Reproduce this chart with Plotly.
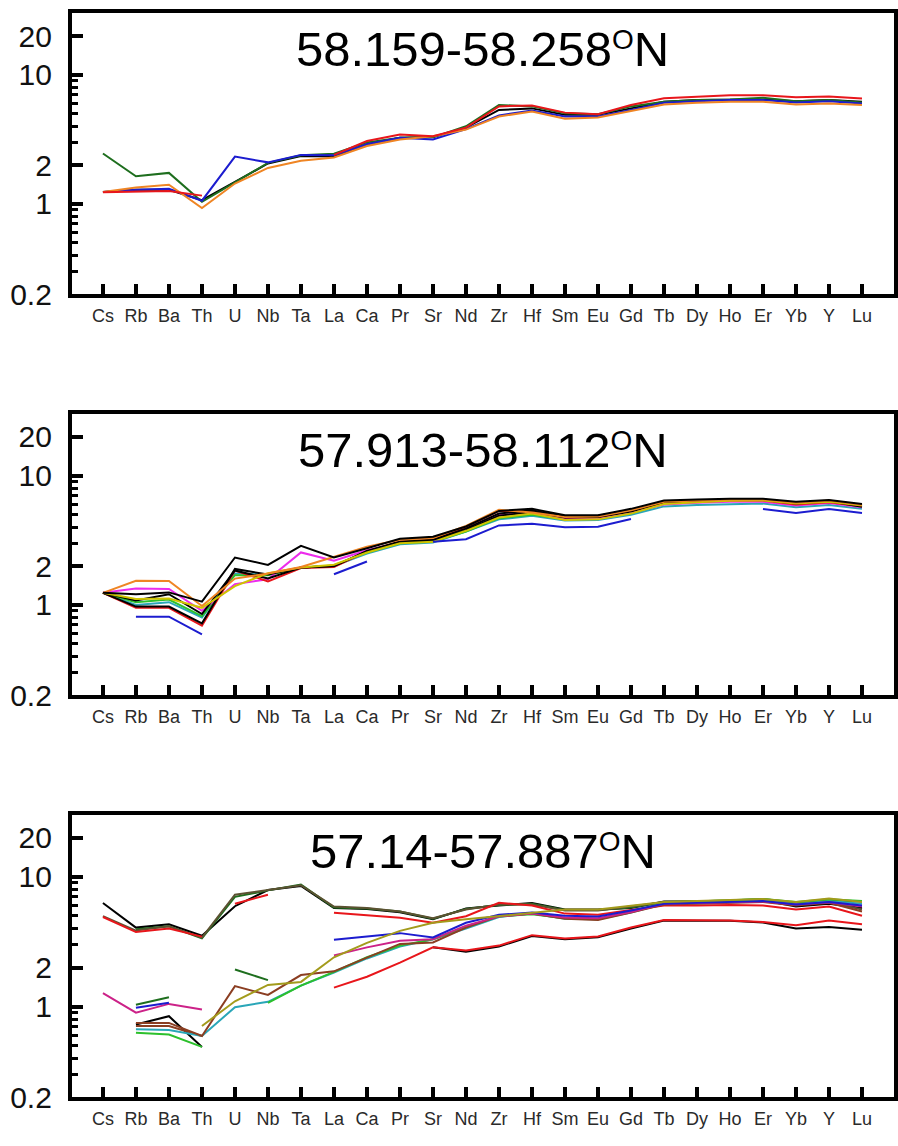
import plotly.graph_objects as go

elements = ["Cs", "Rb", "Ba", "Th", "U", "Nb", "Ta", "La", "Ca", "Pr", "Sr", "Nd",
            "Zr", "Hf", "Sm", "Eu", "Gd", "Tb", "Dy", "Ho", "Er", "Yb", "Y", "Lu"]
N = None

title_main = ["58.159-58.258", "57.913-58.112", "57.14-57.887"]

# ---- panel 1 (58.159-58.258 N)
p1_black = [1.24, 1.29, 1.29, 1.07, 1.48, 2.06, 2.35, 2.33, 2.90, 3.26, 3.30, 3.90, 5.35, 5.50, 4.90, 4.90, 5.50, 6.20, 6.40, 6.45, 6.45, 6.25, 6.40, 6.20]
p1_green = [2.46, 1.64, 1.74, 1.04, 1.47, 2.08, 2.38, 2.45, 3.00, 3.26, 3.28, 4.00, 5.85, 5.70, 5.05, 4.95, 5.70, 6.20, 6.40, 6.45, 6.65, 6.25, 6.40, 6.10]
p1_blue = [1.24, 1.29, 1.31, 1.06, 2.33, 2.10, 2.40, 2.38, 2.90, 3.26, 3.16, 3.80, 4.85, 5.30, 4.76, 4.76, 5.35, 6.07, 6.25, 6.40, 6.40, 6.10, 6.25, 6.00]
p1_orange = [1.24, 1.34, 1.41, 0.93, 1.44, 1.90, 2.16, 2.29, 2.81, 3.16, 3.35, 3.77, 4.76, 5.20, 4.57, 4.67, 5.25, 5.90, 6.07, 6.20, 6.20, 5.90, 6.00, 5.85]
p1_red = [1.23, 1.24, 1.26, 1.16, N, N, N, 2.40, 3.07, 3.45, 3.35, 3.90, 5.70, 5.80, 5.10, 4.95, 5.85, 6.60, 6.80, 6.95, 6.95, 6.70, 6.80, 6.55]

# ---- panel 2 (57.913-58.112 N)
p2_teal = [1.24, 1.00, 1.05, 0.80, 1.75, 1.72, 1.93, 2.00, 2.50, 2.95, 3.05, 3.70, 4.60, 4.90, 4.50, 4.55, 5.00, 5.80, 5.95, 6.05, 6.10, 5.70, 5.95, 5.55]
p2_green = [1.24, 1.05, 1.10, 0.82, 1.70, 1.70, 1.95, 2.02, 2.55, 3.00, 3.10, 3.70, 4.70, 5.00, 4.60, 4.65, 5.15, 6.05, 6.25, 6.40, 6.40, 6.00, 6.25, 5.85]
p2_magenta = [1.24, 1.34, 1.33, 0.90, 1.45, 1.58, 2.55, 2.20, 2.65, 3.05, 3.15, 3.80, 4.95, 5.20, 4.70, 4.70, 5.20, 6.00, 6.20, 6.30, 6.30, 5.90, 6.15, 5.70]
p2_red = [1.24, 0.95, 0.95, 0.69, 1.85, 1.52, 1.93, 1.97, 2.60, 3.10, 3.20, 4.00, 5.35, 5.30, 4.75, 4.80, 5.35, 6.15, 6.30, 6.45, 6.45, 6.00, 6.25, 5.80]
p2_black3 = [1.24, 1.08, 1.21, 0.85, 1.85, 1.60, 1.95, 2.00, 2.60, 3.05, 3.15, 3.80, 4.90, 5.25, 4.75, 4.80, 5.30, 6.25, 6.40, 6.50, 6.50, 6.10, 6.35, 5.75]
p2_black2 = [1.24, 0.97, 0.97, 0.72, 1.90, 1.72, 1.95, 2.00, 2.62, 3.10, 3.20, 3.90, 5.10, 5.40, 4.85, 4.90, 5.40, 6.30, 6.45, 6.55, 6.55, 6.15, 6.40, 5.90]
p2_yellow = [1.24, 1.11, 1.12, 0.95, 1.40, 1.76, 1.95, 2.05, 2.55, 3.00, 3.08, 3.75, 4.75, 5.10, 4.55, 4.60, 5.10, 6.05, 6.25, 6.40, 6.45, 6.10, 6.30, 5.90]
p2_orange = [1.24, 1.54, 1.53, 0.98, 1.60, 1.75, 1.97, 2.37, 2.82, 3.20, 3.30, 4.10, 5.45, 5.20, 4.80, 4.85, 5.40, 6.30, 6.40, 6.55, 6.55, 6.20, 6.45, 5.95]
p2_black1 = [1.24, 1.21, 1.25, 1.06, 2.33, 2.04, 2.87, 2.33, 2.75, 3.25, 3.37, 4.05, 5.35, 5.55, 4.95, 4.95, 5.55, 6.45, 6.55, 6.65, 6.65, 6.30, 6.50, 6.05]
p2_blue = [N, 0.81, 0.81, 0.59, N, N, N, 1.73, 2.17, N, 3.08, 3.23, 4.13, 4.25, 4.00, 4.03, 4.63, N, N, N, 5.53, 5.16, 5.53, 5.16]

# ---- panel 3 (57.14-57.887 N)
p3_black1 = [6.27, 4.06, 4.30, 3.51, 5.93, 7.90, 8.50, 5.75, 5.65, 5.33, 4.70, 5.69, 6.00, 6.27, 5.60, 5.60, 5.75, 6.45, 6.45, 6.55, 6.60, 5.90, 6.20, 5.75]
p3_brown1 = [4.97, 3.85, 4.15, 3.40, 7.27, 7.93, 8.60, 5.90, 5.75, 5.40, 4.80, 5.60, 6.10, 6.10, 5.50, 5.50, 5.90, 6.35, 6.40, 6.50, 6.55, 6.15, 6.40, 5.60]
p3_red1 = [4.90, 3.75, 4.00, 3.46, N, N, N, 5.27, 5.03, 4.83, 4.42, 4.97, 6.30, 6.00, 5.20, 5.10, 5.55, 6.00, 6.00, 6.05, 6.00, 5.60, 5.90, 5.00]
p3_redseg = [N, N, N, N, 6.20, 7.27, N, N, N, N, N, N, N, N, N, N, N, N, N, N, N, N, N, N]
p3_green1 = [N, 3.95, 4.15, 3.35, 7.00, 7.85, 8.70, 5.80, 5.70, 5.40, 4.75, 5.65, 6.05, 6.20, 5.55, 5.55, 5.80, 6.40, 6.45, 6.55, 6.75, 6.30, 6.60, 6.45]
p3_black2 = [N, N, N, N, N, N, N, N, N, N, 2.86, 2.65, 2.90, 3.50, 3.30, 3.42, 4.00, 4.60, 4.58, 4.58, 4.45, 4.00, 4.10, 3.90]
p3_red2 = [N, N, N, N, N, N, N, 1.40, 1.70, 2.18, 2.86, 2.70, 2.95, 3.55, 3.35, 3.47, 4.06, 4.64, 4.60, 4.60, 4.48, 4.23, 4.60, 4.30]
p3_magenta1 = [1.27, 0.90, 1.05, 0.95, N, N, N, N, N, N, N, N, N, N, N, N, N, N, N, N, N, N, N, N]
p3_blueseg = [N, 0.98, 1.07, N, N, N, N, N, N, N, N, N, N, N, N, N, N, N, N, N, N, N, N, N]
p3_dgreen1 = [N, 1.035, 1.18, N, N, N, N, N, N, N, N, N, N, N, N, N, N, N, N, N, N, N, N, N]
p3_dgreen2 = [N, N, N, N, 1.93, 1.60, N, N, N, N, N, N, N, N, N, N, N, N, N, N, N, N, N, N]
p3_black3 = [N, 0.73, 0.845, 0.49, N, N, N, N, N, N, N, N, N, N, N, N, N, N, N, N, N, N, N, N]
p3_red3 = [N, 0.71, 0.71, 0.595, N, N, N, N, N, N, N, N, N, N, N, N, N, N, N, N, N, N, N, N]
p3_teal = [N, 0.67, 0.66, 0.595, 0.99, 1.09, 1.45, 1.83, 2.35, 2.90, 3.30, 4.00, 4.90, 5.20, 4.75, 4.70, 5.30, 6.20, 6.35, 6.45, 6.55, 6.15, 6.50, 6.20]
p3_green2 = [N, 0.63, 0.61, 0.49, N, 1.07, 1.45, 1.85, 2.40, 2.95, 3.30, 4.10, 4.95, 5.15, 4.80, 4.70, 5.40, 6.30, 6.45, 6.55, 6.75, 6.40, 6.70, 6.50]
p3_brown2 = [N, 0.75, 0.75, 0.595, 1.44, 1.23, 1.75, 1.87, 2.40, 3.04, 3.12, 4.06, 4.98, 5.20, 4.75, 4.65, 5.30, 6.10, 6.20, 6.30, 6.40, 6.00, 6.30, 5.40]
p3_magenta2 = [N, N, N, N, N, N, N, 2.48, 2.86, 3.22, 3.30, 4.20, 4.95, 5.20, 4.85, 4.80, 5.35, 6.20, 6.30, 6.40, 6.45, 6.10, 6.35, 5.90]
p3_blue2 = [N, N, N, N, N, N, N, 3.27, 3.45, 3.68, 3.41, 4.42, 5.10, 5.30, 5.00, 4.95, 5.50, 6.20, 6.30, 6.40, 6.50, 6.10, 6.40, 6.00]
p3_olive = [N, N, N, 0.71, 1.10, 1.47, 1.55, 2.40, 3.10, 3.83, 4.42, 4.70, 5.00, 5.30, 5.60, 5.60, 6.00, 6.40, 6.50, 6.60, 6.75, 6.40, 6.80, 6.40]

BLACK = "#000000"; RED = "#e8161b"; BLUE = "#1c1ccf"; DGREEN = "#1e6e1e"
ORANGE = "#ef8524"; MAGENTA = "#ec2cec"; YELLOW = "#cfc400"; TEAL = "#2aa6b8"
GREEN = "#2cc02c"; BROWN = "#8b3e22"; OLIVE = "#a39b1c"; PINK = "#cc2288"; DBROWN = "#5c5232"

panels = [
    [(p1_black, BLACK), (p1_green, DGREEN), (p1_blue, BLUE), (p1_orange, ORANGE), (p1_red, RED)],
    [(p2_teal, TEAL), (p2_green, GREEN), (p2_magenta, MAGENTA), (p2_red, RED), (p2_black3, BLACK),
     (p2_black2, BLACK), (p2_yellow, YELLOW), (p2_orange, ORANGE), (p2_black1, BLACK), (p2_blue, BLUE)],
    [(p3_black1, BLACK), (p3_green1, DGREEN), (p3_brown1, DBROWN), (p3_red1, RED), (p3_redseg, RED),
     (p3_black2, BLACK), (p3_red2, RED), (p3_magenta1, PINK), (p3_blueseg, BLUE), (p3_dgreen1, DGREEN),
     (p3_dgreen2, DGREEN), (p3_black3, BLACK), (p3_red3, BROWN), (p3_teal, TEAL), (p3_green2, GREEN),
     (p3_brown2, BROWN), (p3_magenta2, PINK), (p3_blue2, BLUE), (p3_olive, OLIVE)],
]

W, H = 898, 1146
x0, x1 = 72 / W, 895 / W
ypix = [(13.5, 298.6), (420.5, 705.6), (827, 1114)]  # top, bottom in pixels
title_pix = [50, 457, 864]

fig = go.Figure()
xs = list(range(len(elements)))
major = [0.2, 1, 2, 10, 20]
minor = [0.3, 0.4, 0.5, 0.6, 0.7, 0.8, 0.9, 3, 4, 5, 6, 7, 8, 9]
FONT = "Liberation Sans, Arial, sans-serif"

for i, series in enumerate(panels):
    k = "" if i == 0 else str(i + 1)
    for vals, col in series:
        fig.add_trace(go.Scatter(x=xs, y=vals, mode="lines", line=dict(color=col, width=2),
                                 connectgaps=False, showlegend=False, hoverinfo="skip",
                                 xaxis="x" + k, yaxis="y" + k))
    top, bot = ypix[i]
    fig.layout["xaxis" + k] = dict(
        domain=[x0, x1], anchor="y" + k, range=[-0.94, 23.97],
        tickmode="array", tickvals=xs, ticktext=elements,
        ticks="inside", ticklen=10, tickwidth=4, tickcolor="black",
        showline=True, linewidth=4, linecolor="black", mirror=True,
        showgrid=False, zeroline=False, fixedrange=True,
        tickfont=dict(family=FONT, size=18, color="#2a2a2a"), ticklabelstandoff=2)
    fig.layout["yaxis" + k] = dict(
        domain=[1 - bot / H, 1 - top / H], anchor="x" + k, type="log",
        range=[-0.69897, 1.4771],
        tickmode="array", tickvals=major, ticktext=["0.2", "1", "2", "10", "20"],
        ticks="inside", ticklen=11, tickwidth=4, tickcolor="black",
        minor=dict(tickmode="array", tickvals=minor, ticks="inside", ticklen=6,
                   tickwidth=3, tickcolor="black", showgrid=False),
        showline=True, linewidth=4, linecolor="black", mirror=True,
        showgrid=False, zeroline=False, fixedrange=True,
        tickfont=dict(family=FONT, size=30, color="#111111"), ticklabelstandoff=10)
    title_text = (title_main[i] + "<span style='font-size:40px'><sup>O</sup></span>N")
    fig.add_annotation(text=title_text, xref="paper", yref="paper",
                       x=(x0 + x1) / 2, y=1 - title_pix[i] / H, xanchor="center", yanchor="middle",
                       showarrow=False, font=dict(family=FONT, size=49, color="black"))

fig.update_layout(width=W, height=H, margin=dict(l=0, r=0, t=0, b=0),
                  paper_bgcolor="white", plot_bgcolor="white", showlegend=False)

fig.write_html("out.html")
